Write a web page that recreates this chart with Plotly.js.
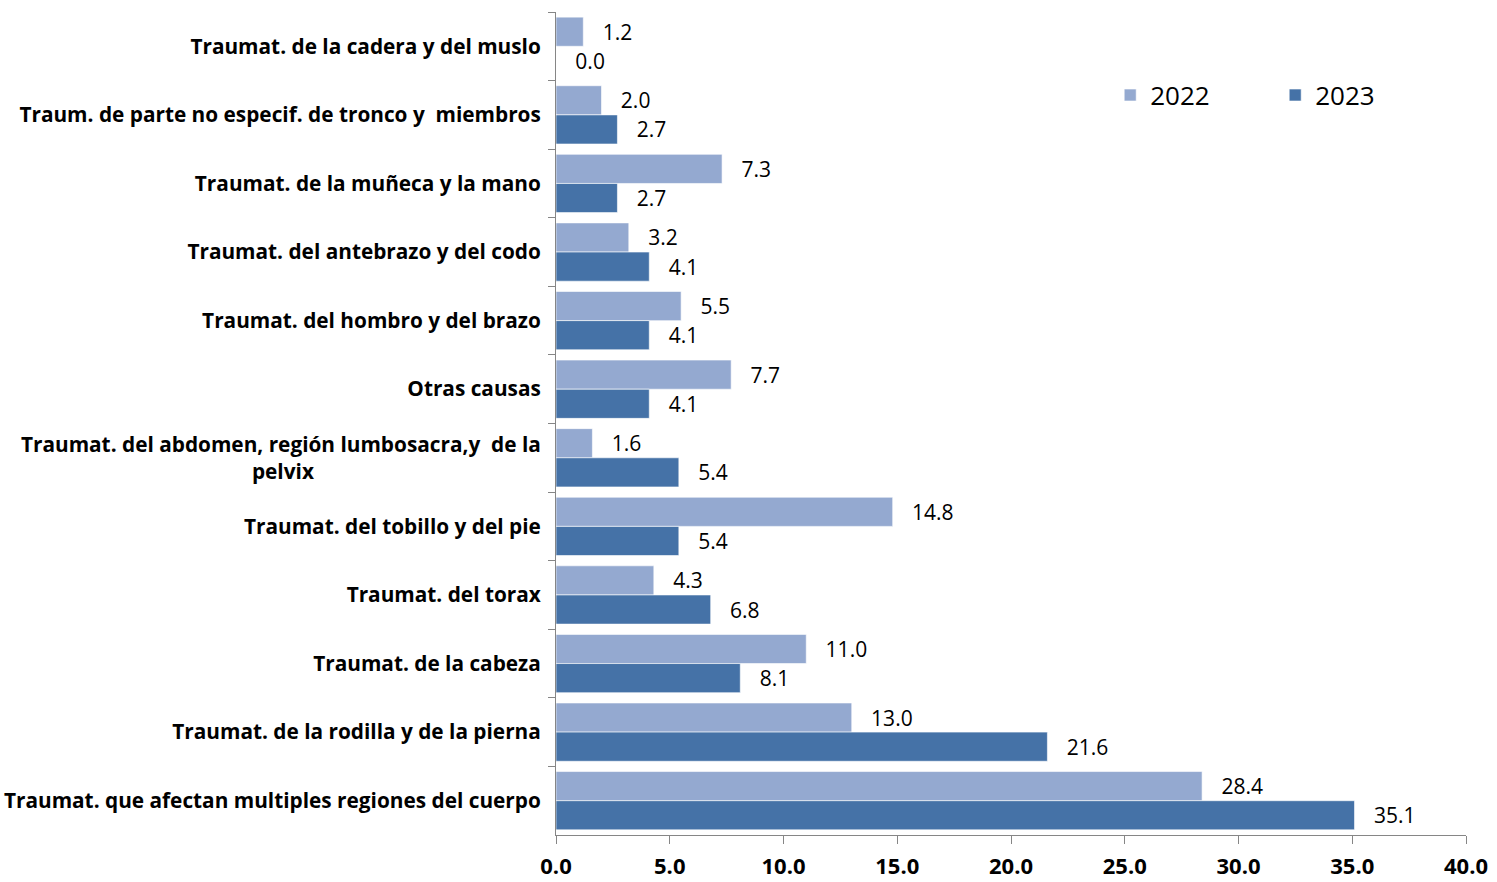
<!DOCTYPE html>
<html>
<head>
<meta charset="utf-8">
<script src="https://cdn.plot.ly/plotly-3.0.1.min.js"></script>
<style>html,body{margin:0;padding:0;background:#fff;}#chart{width:1497px;height:882px;}</style>
</head>
<body>
<div id="chart"></div>
<script>
const PAD = '\u00a0'.repeat(42);
const categories = [
  'Traumat. de la cadera y del muslo',
  'Traum. de parte no especif. de tronco y  miembros',
  'Traumat. de la muñeca y la mano',
  'Traumat. del antebrazo y del codo',
  'Traumat. del hombro y del brazo',
  'Otras causas',
  'Traumat. del abdomen, región lumbosacra,y  de la<br>pelvix' + PAD,
  'Traumat. del tobillo y del pie',
  'Traumat. del torax',
  'Traumat. de la cabeza',
  'Traumat. de la rodilla y de la pierna',
  'Traumat. que afectan multiples regiones del cuerpo'
];
const values2022 = [1.2, 2.0, 7.3, 3.2, 5.5, 7.7, 1.6, 14.8, 4.3, 11.0, 13.0, 28.4];
const values2023 = [0.0, 2.7, 2.7, 4.1, 4.1, 4.1, 5.4, 5.4, 6.8, 8.1, 21.6, 35.1];
const seriesNames = ['2022', '2023'];
const xTicks = [0, 5, 10, 15, 20, 25, 30, 35, 40];

const FONT = '"Open Sans", Lato, sans-serif';
const LP = '\u00a0'.repeat(3);

function barTrace(name, vals, color) {
  return {
    type: 'bar', orientation: 'h', name: name,
    y: categories, x: vals,
    marker: {color: color, line: {color: 'rgba(255,255,255,0.6)', width: 1}},
    text: vals.map(v => LP + v.toFixed(1)),
    textposition: 'outside', cliponaxis: false, constraintext: 'none',
    textfont: {family: FONT, size: 21, color: '#000'},
    hoverinfo: 'x+y'
  };
}

const data = [
  barTrace(seriesNames[0], values2022, '#94A9D0'),
  barTrace(seriesNames[1], values2023, '#4572A7')
];

const layout = {
  width: 1497, height: 882,
  margin: {l: 556, r: 31, t: 12, b: 47, autoexpand: false},
  paper_bgcolor: '#fff', plot_bgcolor: '#fff',
  barmode: 'group', bargap: 0.15, bargroupgap: 0,
  font: {family: FONT, color: '#000'},
  showlegend: true,
  legend: {
    orientation: 'h', x: 0.609, y: 0.899, xanchor: 'left', yanchor: 'middle',
    font: {family: FONT, size: 26, color: '#000'},
    entrywidth: 120, entrywidthmode: 'pixels',
    itemwidth: 30, traceorder: 'normal', bgcolor: 'rgba(0,0,0,0)'
  },
  xaxis: {
    range: [0, 40], tickvals: xTicks, ticktext: xTicks.map(v => v.toFixed(1)),
    showgrid: false, zeroline: false, showline: true, linecolor: '#868686', linewidth: 1,
    ticks: 'outside', ticklen: 8, tickcolor: '#868686', tickwidth: 1,
    ticklabelstandoff: 4,
    tickfont: {family: FONT, size: 22, color: '#000', weight: 'bold'}
  },
  yaxis: {
    type: 'category', autorange: 'reversed',
    showgrid: false, zeroline: false, showline: true, linecolor: '#868686', linewidth: 1,
    ticks: 'outside', tickson: 'boundaries', ticklen: 7, tickcolor: '#868686', tickwidth: 1,
    ticklabelstandoff: 10,
    tickfont: {family: FONT, size: 20.8, color: '#000', weight: 'bold'}
  }
};

Plotly.newPlot('chart', data, layout, {displayModeBar: false, responsive: false});
</script>
</body>
</html>
